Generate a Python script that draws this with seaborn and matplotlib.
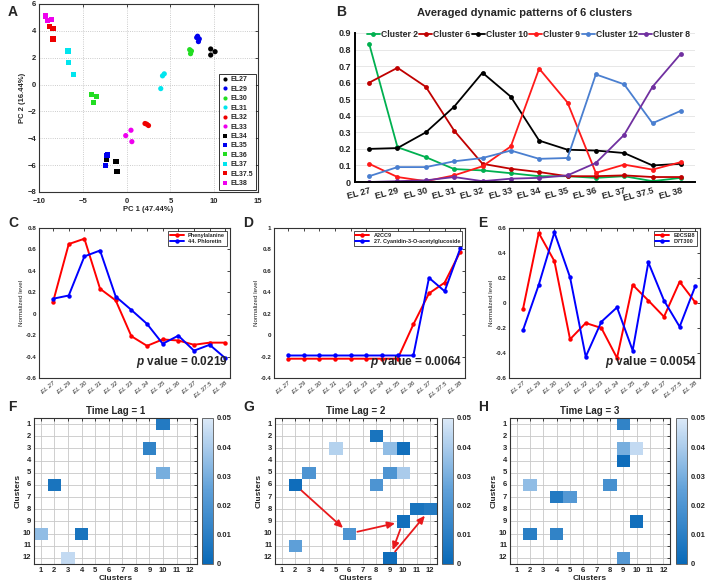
import numpy as np
import pandas as pd
import matplotlib
matplotlib.use("Agg")
import matplotlib.pyplot as plt
from matplotlib.colors import LinearSegmentedColormap
import seaborn as sns

# ---- data -------------------------------------------------------------
STAGES = ["EL 27", "EL 29", "EL 30", "EL 31", "EL 32", "EL 33",
          "EL 34", "EL 35", "EL 36", "EL 37", "EL 37.5", "EL 38"]

# panel A: PCA scores, three replicates per stage
PCA_STAGE = (["EL27"] * 3 + ["EL29"] * 4 + ["EL30"] * 3 + ["EL31"] * 3 + ["EL32"] * 3
             + ["EL33"] * 3 + ["EL34"] * 3 + ["EL35"] * 3 + ["EL36"] * 3 + ["EL37"] * 3
             + ["EL37.5"] * 3 + ["EL38"] * 3)
PC1 = [9.6, 9.6, 10.1, 8.1, 8.2, 8.3, 8.0, 7.2, 7.3, 7.4, 3.9, 4.1, 4.3,
       2.1, 2.3, 2.5, -0.1, 0.5, 0.6, -2.3, -1.2, -1.1, -2.3, -2.2, -2.4,
       -4.0, -3.8, -3.4, -6.7, -6.6, -6.1, -8.8, -8.4, -8.4, -9.3, -9.0, -8.6]
PC2 = [2.65, 2.2, 2.45, 3.6, 3.2, 3.4, 3.5, 2.6, 2.3, 2.5, -0.3, 0.65, 0.8,
       -2.9, -2.95, -3.05, -3.8, -3.4, -4.25, -5.55, -5.75, -6.5, -5.3, -5.25, -6.0,
       -0.75, -1.35, -0.9, 2.5, 1.65, 0.75, 4.3, 4.15, 3.4, 5.1, 4.75, 4.85]
PCA_LEVELS = ["EL27", "EL29", "EL30", "EL31", "EL32", "EL33",
              "EL34", "EL35", "EL36", "EL37", "EL37.5", "EL38"]

# panel B: averaged cluster patterns
CLUSTER_NAMES = ["Cluster 2", "Cluster 6", "Cluster 10", "Cluster 9", "Cluster 12", "Cluster 8"]
CLUSTER_2 = [0.835, 0.21, 0.15, 0.078, 0.07, 0.053, 0.035, 0.035, 0.025, 0.035, 0.005, 0.025]
CLUSTER_6 = [0.60, 0.69, 0.575, 0.31, 0.11, 0.08, 0.06, 0.035, 0.035, 0.04, 0.03, 0.03]
CLUSTER_10 = [0.20, 0.205, 0.30, 0.455, 0.66, 0.515, 0.25, 0.195, 0.19, 0.175, 0.10, 0.11]
CLUSTER_9 = [0.11, 0.03, 0.005, 0.04, 0.095, 0.215, 0.685, 0.48, 0.055, 0.105, 0.075, 0.12]
CLUSTER_12 = [0.035, 0.09, 0.09, 0.125, 0.145, 0.19, 0.14, 0.145, 0.65, 0.59, 0.355, 0.43]
CLUSTER_8 = [0.0, 0.005, 0.01, 0.03, 0.005, 0.02, 0.025, 0.04, 0.115, 0.285, 0.575, 0.775]
CLUSTER_COLORS = ["#00b050", "#c00000", "#000000", "#ff1a1a", "#4a7fd0", "#7030a0"]

# panels C-E: metabolite / gene pairs
C_NAMES = ["Phenylalanine", "44. Phloretin"]
C_RED = [0.112, 0.65, 0.70, 0.233, 0.124, -0.21, -0.30, -0.24, -0.25, -0.29, -0.27, -0.27]
C_BLUE = [0.14, 0.17, 0.535, 0.59, 0.16, 0.035, -0.095, -0.28, -0.205, -0.345, -0.29, -0.415]
C_P = "0.0219"
D_NAMES = ["A2CC9", "27. Cyanidin-3-O-acetylglucoside"]
D_RED = [-0.22, -0.22, -0.22, -0.22, -0.22, -0.22, -0.22, -0.22, 0.10, 0.39, 0.49, 0.78]
D_BLUE = [-0.19, -0.19, -0.19, -0.19, -0.19, -0.19, -0.19, -0.19, -0.19, 0.535, 0.41, 0.81]
D_P = "0.0064"
E_NAMES = ["E0CSB8", "D7T300"]
E_RED = [-0.045, 0.56, 0.335, -0.29, -0.16, -0.20, -0.44, 0.145, 0.02, -0.11, 0.17, 0.005]
E_BLUE = [-0.215, 0.145, 0.565, 0.205, -0.43, -0.15, -0.035, -0.38, 0.325, 0.02, -0.19, 0.135]
E_P = "0.0054"

# panels F-H: significant Granger p-values (row cluster, column cluster, p)
F_ROWS = [1, 3, 5, 6, 10, 10, 12]
F_COLS = [10, 9, 10, 2, 1, 4, 3]
F_VALS = [0.008, 0.012, 0.030, 0.005, 0.035, 0.005, 0.045]
G_ROWS = [2, 3, 3, 3, 5, 5, 5, 6, 6, 8, 8, 9, 10, 11, 12]
G_COLS = [8, 5, 9, 10, 3, 9, 10, 2, 8, 11, 12, 10, 6, 2, 9]
G_VALS = [0.005, 0.042, 0.035, 0.003, 0.020, 0.020, 0.040, 0.002, 0.020,
          0.005, 0.008, 0.003, 0.020, 0.025, 0.002]
G_CHAIN = [(6, 2), (10, 6), (9, 10), (12, 9), (8, 12)]
H_ROWS = [1, 3, 3, 4, 6, 6, 7, 7, 9, 10, 10, 12]
H_COLS = [9, 9, 10, 9, 2, 8, 4, 5, 10, 2, 4, 9]
H_VALS = [0.012, 0.030, 0.045, 0.002, 0.035, 0.018, 0.008, 0.022, 0.003, 0.010, 0.012, 0.022]

# ---- figure -----------------------------------------------------------
sns.set_style("white")
plt.rcParams["font.family"] = ["Liberation Sans", "DejaVu Sans"]
plt.rcParams["mathtext.fontset"] = "custom"
plt.rcParams["mathtext.bfit"] = "Liberation Sans:italic:bold"

W, H = 708, 587
fig = plt.figure(figsize=(W / 100, H / 100), dpi=100)
fig.patch.set_facecolor("white")


def px_axes(l, t, r, b):
    return fig.add_axes([l / W, 1 - b / H, (r - l) / W, (b - t) / H])


def matlab_box(ax, fs=5):
    for s in ax.spines.values():
        s.set_visible(True)
        s.set_color("#333333")
        s.set_linewidth(0.8)
    ax.tick_params(direction="in", length=2.5, width=0.6, top=True, right=True,
                   labelsize=fs, pad=2)
    for lab in ax.get_xticklabels() + ax.get_yticklabels():
        lab.set_fontweight("bold")


# panel letters
for letter, x, y in [("A", 8, 12), ("B", 336, 12), ("C", 8, 223), ("D", 243, 223),
                     ("E", 478, 223), ("F", 8, 407), ("G", 243, 407), ("H", 478, 407)]:
    fig.text(x / W, 1 - y / H, letter, fontsize=10, fontweight="bold", va="center")

# ---- A: PCA ----
axA = px_axes(39, 4, 258, 192)
pca_df = pd.DataFrame({"PC1": PC1, "PC2": PC2, "stage": PCA_STAGE})
pca_palette = dict(zip(PCA_LEVELS, ["black", "#0000ee", "#22dd22", "#00e5ee", "#ee0000", "#ee00ee"] * 2))
pca_markers = dict(zip(PCA_LEVELS, ["o"] * 6 + ["s"] * 6))
sns.scatterplot(data=pca_df, x="PC1", y="PC2", hue="stage", style="stage",
                hue_order=PCA_LEVELS, style_order=PCA_LEVELS, palette=pca_palette,
                markers=pca_markers, s=14, edgecolor="none", ax=axA)
axA.set_xlim(-10, 15)
axA.set_ylim(-8, 6)
axA.set_xticks(range(-10, 16, 5))
axA.set_yticks(range(-8, 7, 2))
axA.grid(True, linestyle=":", color="#bbbbbb", linewidth=0.6)
axA.set_xlabel("PC 1 (47.44%)", fontsize=5.5, fontweight="bold", labelpad=1)
axA.set_ylabel("PC 2 (16.44%)", fontsize=5.5, fontweight="bold", labelpad=1)
matlab_box(axA, 5.5)
axA.tick_params(axis="x", pad=4)
legA = axA.legend(loc="lower right", fontsize=5, frameon=True, fancybox=False,
                  edgecolor="black", borderpad=0.4, labelspacing=0.35,
                  handletextpad=0.3, handlelength=1.0, markerscale=0.8,
                  borderaxespad=0.3)
legA.get_frame().set_linewidth(0.7)
for t in legA.get_texts():
    t.set_fontweight("bold")

# ---- B: cluster patterns ----
axB = px_axes(355, 33, 695, 182)
b_df = pd.DataFrame({
    "stage": STAGES * 6,
    "value": CLUSTER_2 + CLUSTER_6 + CLUSTER_10 + CLUSTER_9 + CLUSTER_12 + CLUSTER_8,
    "cluster": sum([[n] * 12 for n in CLUSTER_NAMES], []),
})
sns.lineplot(data=b_df, x="stage", y="value", hue="cluster", hue_order=CLUSTER_NAMES,
             palette=CLUSTER_COLORS, marker="o", markersize=3.5, markeredgewidth=0,
             linewidth=1.3, sort=False, ax=axB)
axB.set_ylim(0, 0.9)
axB.set_yticks(np.arange(0, 0.91, 0.1))
axB.set_yticklabels(["0"] + [f"{v:.1f}" for v in np.arange(0.1, 0.91, 0.1)])
axB.set_xlim(-0.5, 11.5)
axB.grid(True, axis="y", color="#e3e3e3", linewidth=0.6)
axB.set_axisbelow(True)
for s in ["top", "right"]:
    axB.spines[s].set_visible(False)
for s in ["left", "bottom"]:
    axB.spines[s].set_color("black")
    axB.spines[s].set_linewidth(1.4)
axB.tick_params(axis="both", labelsize=6.5, length=0, pad=3)
for lab in axB.get_yticklabels():
    lab.set_fontweight("bold")
for lab in axB.get_xticklabels():
    lab.set_fontweight("bold")
    lab.set_rotation(15)
    lab.set_ha("right")
    lab.set_rotation_mode("anchor")
axB.set_xlabel("")
axB.set_ylabel("")
axB.set_title("Averaged dynamic patterns of 6 clusters", fontsize=8, fontweight="bold", pad=12)
h, l = axB.get_legend_handles_labels()
legB = axB.legend(h, l, ncol=6, loc="center", bbox_to_anchor=(0.51, 0.99), frameon=False,
                  fontsize=6.2, handlelength=1.5, handletextpad=0.1, columnspacing=0.2,
                  borderaxespad=0)
for t in legB.get_texts():
    t.set_fontweight("bold")

# ---- C-E: pairs ----
def pair_panel(box, names, red, blue, pval, ylim, yticks):
    ax = px_axes(*box)
    df = pd.DataFrame({"stage": STAGES * 2, "level": red + blue,
                       "series": [names[0]] * 12 + [names[1]] * 12})
    sns.lineplot(data=df, x="stage", y="level", hue="series", hue_order=names,
                 palette=["#ff0000", "#0000ff"], marker="o", markersize=3.2,
                 markeredgewidth=0, linewidth=1.4, sort=False, ax=ax)
    ax.set_xlim(-0.9, 11.3)
    ax.set_ylim(*ylim)
    ax.set_yticks(yticks)
    ax.set_yticklabels([("0" if abs(v) < 1e-9 else f"{v:g}") for v in yticks])
    ax.set_xlabel("")
    ax.set_ylabel("Normalized level", fontsize=4.5, labelpad=1)
    matlab_box(ax, 4.5)
    for lab in ax.get_xticklabels():
        lab.set_rotation(40)
        lab.set_ha("right")
        lab.set_rotation_mode("anchor")
        lab.set_fontweight("normal")
        lab.set_fontstyle("italic")
    leg = ax.legend(loc="upper right", fontsize=4, frameon=True, fancybox=False,
                    edgecolor="black", handlelength=2.5, borderpad=0.3,
                    labelspacing=0.2, borderaxespad=0.6)
    leg.get_frame().set_linewidth(0.6)
    for t in leg.get_texts():
        t.set_fontweight("bold")
    ax.text(0.985, 0.05, r"$\mathbfit{p}$ value = " + pval, transform=ax.transAxes,
            ha="right", va="bottom", fontsize=8.5, fontweight="bold")
    return ax


pair_panel((39, 228, 230, 378), C_NAMES, C_RED, C_BLUE, C_P, (-0.6, 0.8), np.round(np.arange(-0.6, 0.81, 0.2), 1))
pair_panel((274, 228, 465, 378), D_NAMES, D_RED, D_BLUE, D_P, (-0.4, 1.0), np.round(np.arange(-0.4, 1.01, 0.2), 1))
pair_panel((509, 228, 700, 378), E_NAMES, E_RED, E_BLUE, E_P, (-0.6, 0.6), np.round(np.arange(-0.6, 0.61, 0.2), 1))

# ---- F-H: Granger heatmaps ----
lag_cmap = LinearSegmentedColormap.from_list("lag", ["#0869b8", "#5e9fd8", "#dce9f8"])
labels12 = [str(i) for i in range(1, 13)]


def lag_panel(box, cbox, rows, cols, vals, title):
    ax = px_axes(*box)
    cax = px_axes(*cbox)
    grid = np.full((12, 12), np.nan)
    for r, c, v in zip(rows, cols, vals):
        grid[r - 1, c - 1] = v
    df = pd.DataFrame(grid, index=labels12, columns=labels12)
    sns.heatmap(df, ax=ax, cmap=lag_cmap, vmin=0, vmax=0.05, cbar_ax=cax, square=False,
                xticklabels=1, yticklabels=1,
                cbar_kws={"ticks": [0, 0.01, 0.02, 0.03, 0.04, 0.05]})
    ax.set_axisbelow(True)
    ax.grid(True, color="#c8c8c8", linewidth=0.6)
    ax.set_xlabel("Clusters", fontsize=6, fontweight="bold", labelpad=1)
    ax.set_ylabel("Clusters", fontsize=6, fontweight="bold", labelpad=1)
    ax.set_title(title, fontsize=7, fontweight="bold", pad=3)
    matlab_box(ax, 5.5)
    ax.tick_params(axis="y", rotation=0)
    ax.tick_params(axis="x", rotation=0)
    cax.tick_params(labelsize=5.5, length=0, pad=3)
    cax.set_yticklabels(["0", "0.01", "0.02", "0.03", "0.04", "0.05"])
    for lab in cax.get_yticklabels():
        lab.set_fontweight("bold")
    cb = ax.collections[0].colorbar
    cb.outline.set_visible(True)
    cb.outline.set_linewidth(0.6)
    cb.outline.set_edgecolor("#555555")
    return ax


lag_panel((34, 418, 197, 564), (202, 418, 213, 564), F_ROWS, F_COLS, F_VALS, "Time Lag = 1")
axG = lag_panel((275, 418, 437, 564), (442, 418, 453, 564), G_ROWS, G_COLS, G_VALS, "Time Lag = 2")
lag_panel((510, 418, 670, 564), (676, 418, 687, 564), H_ROWS, H_COLS, H_VALS, "Time Lag = 3")

# causal chain arrows in G
for (r0, c0), (r1, c1) in zip(G_CHAIN[:-1], G_CHAIN[1:]):
    axG.annotate("", xy=(c1 - 0.5, r1 - 0.5), xytext=(c0 - 0.5, r0 - 0.5),
                 arrowprops=dict(arrowstyle="-|>,head_length=0.45,head_width=0.2",
                                 color="#e8191c", lw=1.3, shrinkA=6, shrinkB=6))

fig.savefig("out.png", dpi=100, facecolor="white")
